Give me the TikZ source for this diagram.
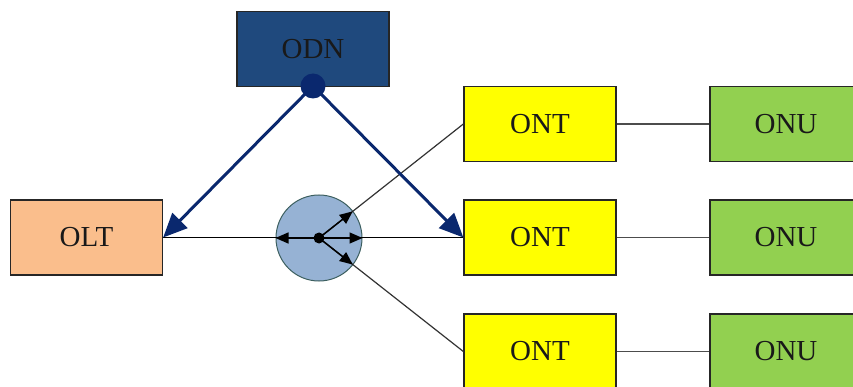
\documentclass[tikz,border=0pt]{standalone}
\usepackage{fontspec}
\setmainfont{Liberation Serif}
\usetikzlibrary{arrows.meta,calc}

\definecolor{odnblue}{RGB}{31,73,125}
\definecolor{navy}{RGB}{10,40,110}
\definecolor{oltorange}{RGB}{250,190,140}
\definecolor{splitblue}{RGB}{150,178,212}
\definecolor{splitedge}{RGB}{60,95,95}
\definecolor{ontyellow}{RGB}{255,255,0}
\definecolor{onugreen}{RGB}{146,208,80}

\tikzset{
  unit/.style={draw=black!85, line width=1.3pt, minimum width=152pt, minimum height=75pt,
               inner sep=0pt, font=\fontsize{29}{32}\selectfont, text=black!90},
  fibre/.style={draw=black, line width=1.5pt},
  drop/.style={draw=black!80, line width=1.2pt},
  link/.style={draw=black!70, line width=1.1pt},
  splitarrow/.style={draw=black, line width=1.5pt, -{Triangle[length=13pt,width=11pt]}},
  odnarrow/.style={draw=navy, line width=3pt, -{Triangle[length=24pt,width=21pt]}},
}

\begin{document}
\begin{tikzpicture}[x=1pt, y=-1pt]
  \clip (0,0) rectangle (853,387);
  \fill[white] (0,0) rectangle (853,387);

  % network elements
  \node[unit, fill=odnblue]   (odn)  at (313,49)    {ODN};
  \node[unit, fill=oltorange] (olt)  at (86.5,237.5) {OLT};
  \node[unit, fill=ontyellow] (ont1) at (540,124)   {ONT};
  \node[unit, fill=ontyellow] (ont2) at (540,237.5) {ONT};
  \node[unit, fill=ontyellow] (ont3) at (540,351.5) {ONT};
  \node[unit, fill=onugreen]  (onu1) at (786,124)   {ONU};
  \node[unit, fill=onugreen]  (onu2) at (786,237.5) {ONU};
  \node[unit, fill=onugreen]  (onu3) at (786,351.5) {ONU};

  % passive splitter
  \node[circle, draw=splitedge, line width=1pt, fill=splitblue,
        minimum size=86pt, inner sep=0pt] (split) at (319,238) {};
  \coordinate (hub) at (319,238);

  % ONT to ONU links
  \draw[link] (ont1.east) -- (onu1.west);
  \draw[link] (ont2.east) -- (onu2.west);
  \draw[link] (ont3.east) -- (onu3.west);

  % feeder and drop fibres
  \draw[fibre] (olt.east) -- (ont2.west);
  \draw[drop] (hub) -- (ont1.west);
  \draw[drop] (hub) -- (ont3.west);

  % splitting directions
  \coordinate (up)   at ($(hub)!43pt!(ont1.west)$);
  \coordinate (down) at ($(hub)!43pt!(ont3.west)$);
  \draw[splitarrow] (hub) -- (split.west);
  \draw[splitarrow] (hub) -- (split.east);
  \draw[splitarrow] (hub) -- (up);
  \draw[splitarrow] (hub) -- (down);
  \fill[black] (hub) circle (5.5pt);

  % ODN scope arrows
  \coordinate (tap) at (313,86);
  \draw[odnarrow] (tap) -- (olt.east);
  \draw[odnarrow] (tap) -- (ont2.west);
  \node[circle, fill=navy, minimum size=25pt, inner sep=0pt] (knot) at (tap) {};
\end{tikzpicture}
\end{document}
